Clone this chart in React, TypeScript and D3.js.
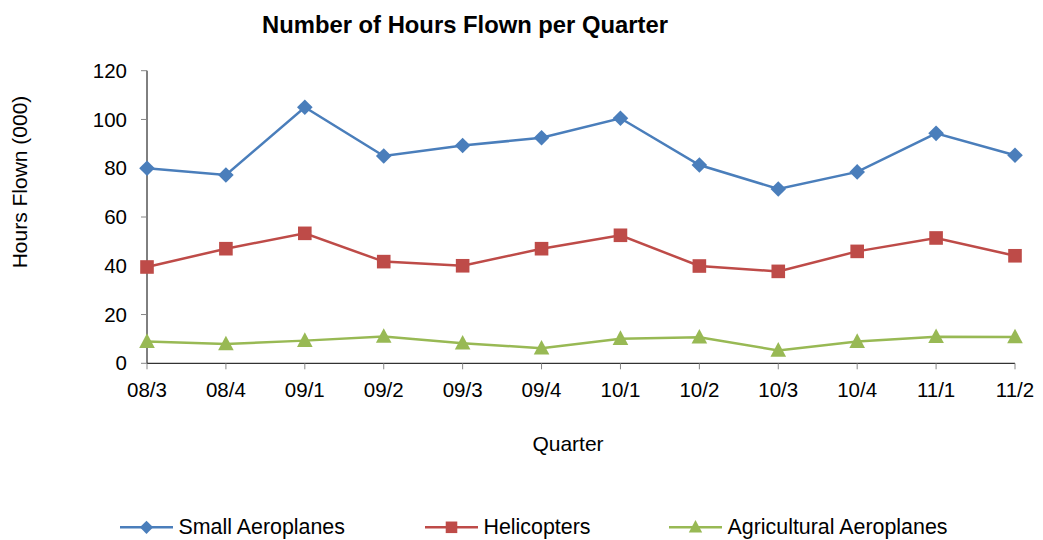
import React from "react";
import * as d3 from "d3";

const quarters = ["08/3", "08/4", "09/1", "09/2", "09/3", "09/4", "10/1", "10/2", "10/3", "10/4", "11/1", "11/2"];
const smallAeroplanes = [80, 77.2, 105, 85, 89.3, 92.5, 100.5, 81.3, 71.5, 78.5, 94.3, 85.3];
const helicopters = [39.5, 47, 53.3, 41.7, 40, 47, 52.5, 39.9, 37.7, 45.9, 51.4, 44.1];
const agricultural = [8.9, 7.9, 9.3, 11, 8.2, 6.2, 10.1, 10.7, 5.3, 8.9, 10.9, 10.8];
const yTicks = [0, 20, 40, 60, 80, 100, 120];

const seriesNames = ["Small Aeroplanes", "Helicopters", "Agricultural Aeroplanes"];
const seriesColors = ["#4A7EBB", "#BE4B48", "#98B954"];
const seriesShapes = ["diamond", "square", "triangle"];

const W = 1043;
const H = 540;
const FONT = "'Liberation Sans', Arial, sans-serif";

function Marker({ shape, x, y, color, scale = 1 }: { shape: string; x: number; y: number; color: string; scale?: number }) {
  if (shape === "diamond") {
    const r = 7.8 * scale;
    return <path d={`M${x},${y - r}L${x + r},${y}L${x},${y + r}L${x - r},${y}Z`} fill={color} />;
  }
  if (shape === "square") {
    const s = 6.8 * scale;
    return <rect x={x - s} y={y - s} width={2 * s} height={2 * s} fill={color} />;
  }
  const h = 7.3 * scale;
  return <path d={`M${x},${y - h - 1}L${x + h + 0.5},${y + h - 1}L${x - h - 0.5},${y + h - 1}Z`} fill={color} />;
}

export default function App() {
  const x = d3.scalePoint<string>().domain(quarters).range([147, 1015]);
  const y = d3.scaleLinear().domain([0, 120]).range([363.3, 70.7]);
  const line = d3
    .line<number>()
    .x((_, i) => x(quarters[i]) as number)
    .y((d) => y(d));
  const allSeries = [smallAeroplanes, helicopters, agricultural];
  const legendX = [120, 425, 669];

  return (
    <svg width={W} height={H} style={{ position: "absolute", left: 0, top: 0 }} fontFamily={FONT}>
      <rect width={W} height={H} fill="#fff" />
      <text x={465} y={32.5} textAnchor="middle" fontSize={23.8} fontWeight="bold" fill="#000">
        Number of Hours Flown per Quarter
      </text>
      {/* Y axis */}
      <line x1={147} x2={147} y1={y(120)} y2={y(0)} stroke="#000" strokeWidth={1} />
      {yTicks.map((t) => (
        <g key={t}>
          <line x1={141} x2={147} y1={y(t)} y2={y(t)} stroke="#868686" strokeWidth={1} />
          <text x={127} y={y(t)} dy="0.35em" textAnchor="end" fontSize={20.5} fill="#000">
            {t}
          </text>
        </g>
      ))}
      {/* X axis */}
      <line x1={147} x2={1015} y1={y(0)} y2={y(0)} stroke="#000" strokeWidth={1} />
      {quarters.map((q) => (
        <g key={q}>
          <line x1={x(q)} x2={x(q)} y1={y(0)} y2={y(0) + 6} stroke="#868686" strokeWidth={1} />
          <text x={x(q)} y={396.5} textAnchor="middle" fontSize={20.5} fill="#000">
            {q}
          </text>
        </g>
      ))}
      <text x={568} y={451} textAnchor="middle" fontSize={21} fill="#000">
        Quarter
      </text>
      <text transform={`translate(27,${182}) rotate(-90)`} textAnchor="middle" fontSize={21} fill="#000">
        Hours Flown (000)
      </text>
      {allSeries.map((s, si) => (
        <g key={si}>
          <path d={line(s) || ""} fill="none" stroke={seriesColors[si]} strokeWidth={2.5} />
          {s.map((v, i) => (
            <Marker key={i} shape={seriesShapes[si]} x={x(quarters[i]) as number} y={y(v)} color={seriesColors[si]} />
          ))}
        </g>
      ))}
      {/* Legend */}
      {seriesNames.map((n, i) => (
        <g key={n}>
          <line x1={legendX[i]} x2={legendX[i] + 53} y1={527.3} y2={527.3} stroke={seriesColors[i]} strokeWidth={2.5} />
          <Marker shape={seriesShapes[i]} x={legendX[i] + 26.5} y={527.3} color={seriesColors[i]} scale={0.85} />
          <text x={legendX[i] + 58.5} y={534.3} fontSize={21.4} fill="#000">
            {n}
          </text>
        </g>
      ))}
    </svg>
  );
}
